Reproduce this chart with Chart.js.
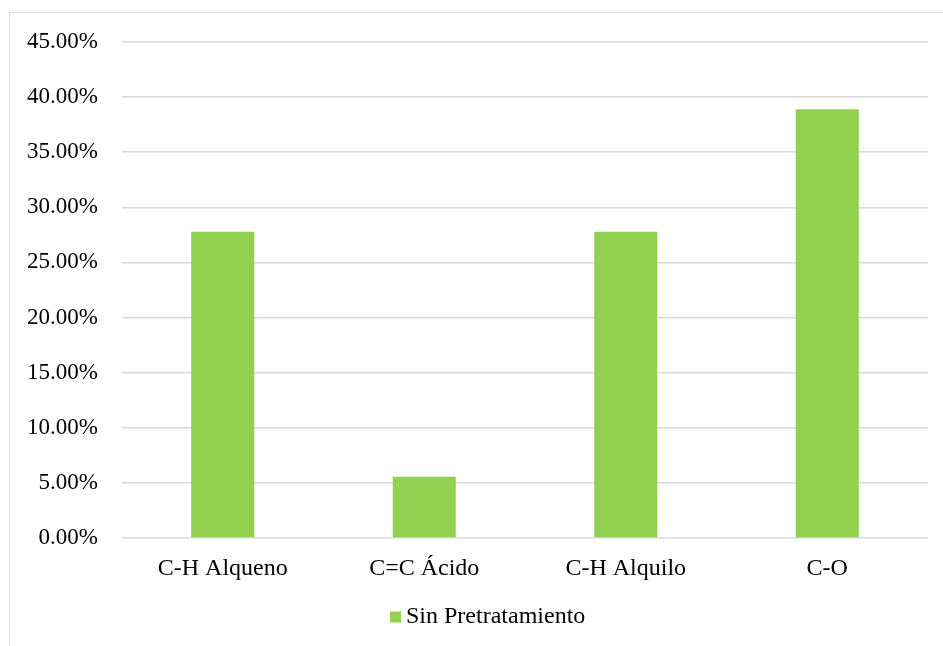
<!DOCTYPE html>
<html>
<head>
<meta charset="utf-8">
<script src="https://cdn.jsdelivr.net/npm/chart.js@4/dist/chart.umd.min.js"></script>
<style>
  html, body { margin: 0; padding: 0; background: #fff; overflow: hidden; }
  #wrap { position: relative; width: 943px; height: 646px; overflow: hidden; }
  #frame { position: absolute; left: 9px; top: 12px; width: 1000px; height: 1000px;
           border: 1px solid #d9d9d9; box-sizing: border-box; }
  canvas { position: absolute; left: 0; top: 0; }
</style>
</head>
<body>
<div id="wrap">
  <div id="frame"></div>
  <canvas id="chart" width="943" height="646"></canvas>
</div>
<script>
// Functional groups and their share (%) without pretreatment
const categories = ['C-H Alqueno', 'C=C Ácido', 'C-H Alquilo', 'C-O'];
const seriesName = 'Sin Pretratamiento';
const values = [27.78, 5.56, 27.78, 38.89];
const yTicks = [0, 5, 10, 15, 20, 25, 30, 35, 40, 45];

const FONT = "'Liberation Serif', 'Times New Roman', serif";
const GREEN = '#92d050';
const GRID = '#d9d9d9';

// Compact legend: small square swatch followed closely by the series name,
// centred in the lower band of the chart.
const compactLegend = {
  id: 'compactLegend',
  afterDraw(chart) {
    const ctx = chart.ctx;
    const ds = chart.data.datasets[0];
    const box = 11, gap = 5, cy = 617, cx = 488;
    ctx.save();
    ctx.font = '24px ' + FONT;
    const tw = ctx.measureText(ds.label).width;
    const total = box + gap + tw;
    const x0 = Math.round(cx - total / 2);
    ctx.fillStyle = ds.backgroundColor;
    ctx.fillRect(x0, cy - box / 2, box, box);
    ctx.fillStyle = '#000';
    ctx.textBaseline = 'middle';
    ctx.textAlign = 'left';
    ctx.fillText(ds.label, x0 + box + gap, cy);
    ctx.restore();
  }
};

new Chart(document.getElementById('chart'), {
  type: 'bar',
  data: {
    labels: categories,
    datasets: [{
      label: seriesName,
      data: values,
      backgroundColor: GREEN,
      borderWidth: 0,
      categoryPercentage: 1,
      barPercentage: 0.313
    }]
  },
  plugins: [compactLegend],
  options: {
    responsive: false,
    animation: false,
    devicePixelRatio: 1,
    layout: { padding: { top: 42, right: 15, bottom: 50, left: 0 } },
    plugins: {
      tooltip: { enabled: false },
      legend: { display: false }
    },
    scales: {
      x: {
        grid: { display: false },
        border: { display: false },
        ticks: {
          color: '#000',
          padding: 8,
          maxRotation: 0,
          font: { family: FONT, size: 24 }
        },
        afterFit(scale) { scale.height = 58; }
      },
      y: {
        min: 0,
        max: 45,
        afterBuildTicks(scale) { scale.ticks = yTicks.map(v => ({ value: v })); },
        grid: { color: GRID, lineWidth: 1.5, drawTicks: false },
        border: { display: false },
        ticks: {
          color: '#000',
          padding: 24,
          font: { family: FONT, size: 23 },
          callback: v => Number(v).toFixed(2) + '%'
        },
        afterFit(scale) { scale.width = 122; }
      }
    }
  }
});
</script>
</body>
</html>
